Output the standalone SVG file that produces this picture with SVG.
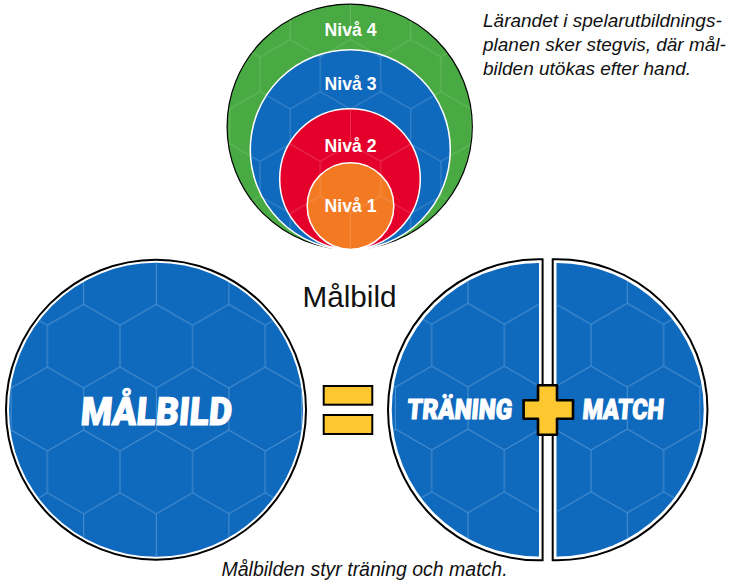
<svg xmlns="http://www.w3.org/2000/svg" width="731" height="582" viewBox="0 0 731 582">
<style>
.cap{font-family:"Liberation Sans",Arial,sans-serif;fill:#111}
.it{font-style:italic;font-size:19px}
.lvl{font-family:"Liberation Sans",Arial,sans-serif;font-weight:700;font-size:17.6px;fill:#fff;text-anchor:middle}
.big{font-family:"Roboto","Liberation Sans",sans-serif;font-weight:900;fill:#fff;stroke:#fff;stroke-width:1.1}
.ring{stroke:#fff;stroke-width:1.5}
.yel{fill:#fdc82f;stroke:#000}
</style>
<defs>
<path id="t1" d="M0,20.95L36.3,0L72.6,20.95V62.85L36.3,83.8L0,62.85ZM36.3,83.8V125.7" fill="none" stroke="#4a90d0" stroke-width="1"/>
<path id="t2" d="M0,17.4L30.15,0L60.3,17.4V52.2L30.15,69.6L0,52.2ZM30.15,69.6V104.4" fill="none" stroke-width="1"/>
<pattern id="hexL" width="72.6" height="125.7" patternUnits="userSpaceOnUse" patternTransform="translate(120,304.3)"><use href="#t1"/></pattern>
<pattern id="hexT" width="72.6" height="125.7" patternUnits="userSpaceOnUse" patternTransform="translate(431.7,303.3)"><use href="#t1"/></pattern>
<pattern id="hexM" width="72.6" height="125.7" patternUnits="userSpaceOnUse" patternTransform="translate(591,303.3)"><use href="#t1"/></pattern>
<pattern id="hg" width="60.3" height="104.4" patternUnits="userSpaceOnUse" patternTransform="translate(260,39.5)"><use href="#t2" stroke="#64b95c"/></pattern>
<pattern id="hb" width="60.3" height="104.4" patternUnits="userSpaceOnUse" patternTransform="translate(260,39.5)"><use href="#t2" stroke="#3f88cc"/></pattern>
<pattern id="hr" width="60.3" height="104.4" patternUnits="userSpaceOnUse" patternTransform="translate(260,39.5)"><use href="#t2" stroke="#ea3350"/></pattern>
<pattern id="ho" width="60.3" height="104.4" patternUnits="userSpaceOnUse" patternTransform="translate(260,39.5)"><use href="#t2" stroke="#f58d48"/></pattern>
</defs>

<g id="niva4">
<circle cx="349.7" cy="126.7" r="122.6" fill="#49a942" stroke="#000" stroke-width="1.2"/>
<circle cx="349.7" cy="126.7" r="122" fill="url(#hg)"/>
<text class="lvl" x="350.5" y="36">Nivå 4</text>
</g>
<g id="niva3">
<circle cx="350.3" cy="149.7" r="100" fill="#0f69bd" class="ring"/>
<circle cx="350.3" cy="149.7" r="99" fill="url(#hb)"/>
<text class="lvl" x="350.5" y="90">Nivå 3</text>
</g>
<g id="niva2">
<circle cx="350" cy="179" r="70.3" fill="#e4002b" class="ring"/>
<circle cx="350" cy="179" r="69.4" fill="url(#hr)"/>
<text class="lvl" x="350.5" y="152">Nivå 2</text>
</g>
<g id="niva1">
<circle cx="350.5" cy="206" r="43.3" fill="#f37a22" class="ring"/>
<circle cx="350.5" cy="206" r="42.4" fill="url(#ho)"/>
<text class="lvl" x="350.5" y="211.5">Nivå 1</text>
</g>

<g id="intro">
<text class="cap it" x="483" y="26.7">Lärandet i spelarutbildnings-</text>
<text class="cap it" x="483" y="50.5">planen sker stegvis, där mål-</text>
<text class="cap it" x="483" y="75">bilden utökas efter hand.</text>
</g>

<text id="title" class="cap" x="302.5" y="307" font-size="29.7">Målbild</text>

<g id="malbild">
<circle cx="156" cy="409.7" r="150" fill="#fff" stroke="#000" stroke-width="2"/>
<circle cx="156" cy="409.7" r="147" fill="#0f69bd"/>
<circle cx="156" cy="409.7" r="147" fill="url(#hexL)"/>
<text class="big" transform="translate(80,425) skewX(-5)" font-size="39" textLength="151" lengthAdjust="spacingAndGlyphs">MÅLBILD</text>
</g>

<g id="likamed">
<rect class="yel" x="323.7" y="386" width="48.6" height="18.7" stroke-width="2"/>
<rect class="yel" x="323.7" y="415" width="48.6" height="19" stroke-width="2"/>
</g>

<g id="traning">
<path d="M542.6,259.356A150.5,150.5 0 1 0 542.6,560.244Z" fill="#fff" stroke="#000" stroke-width="2"/>
<path d="M539,263.101A146.7,146.7 0 1 0 539,556.499Z" fill="#0f69bd"/>
<path d="M539,263.101A146.7,146.7 0 1 0 539,556.499Z" fill="url(#hexT)"/>
<text class="big" transform="translate(406.5,419) skewX(-5)" font-size="28" textLength="105" lengthAdjust="spacingAndGlyphs">TRÄNING</text>
</g>

<g id="match">
<path d="M552.7,259.361A150.5,150.5 0 1 1 552.7,560.239Z" fill="#fff" stroke="#000" stroke-width="2"/>
<path d="M556.5,263.101A146.7,146.7 0 1 1 556.5,556.499Z" fill="#0f69bd"/>
<path d="M556.5,263.101A146.7,146.7 0 1 1 556.5,556.499Z" fill="url(#hexM)"/>
<text class="big" transform="translate(582,419) skewX(-5)" font-size="28" textLength="81" lengthAdjust="spacingAndGlyphs">MATCH</text>
</g>

<g id="plus">
<path class="yel" stroke-width="2.6" stroke-linejoin="round" d="M538,385.3H557V400.3H573V418.7H557V434.7H538V418.7H523.6V400.3H538Z"/>
</g>

<text id="caption" class="cap it" x="221.5" y="576" style="font-size:19.5px">Målbilden styr träning och match.</text>
</svg>
